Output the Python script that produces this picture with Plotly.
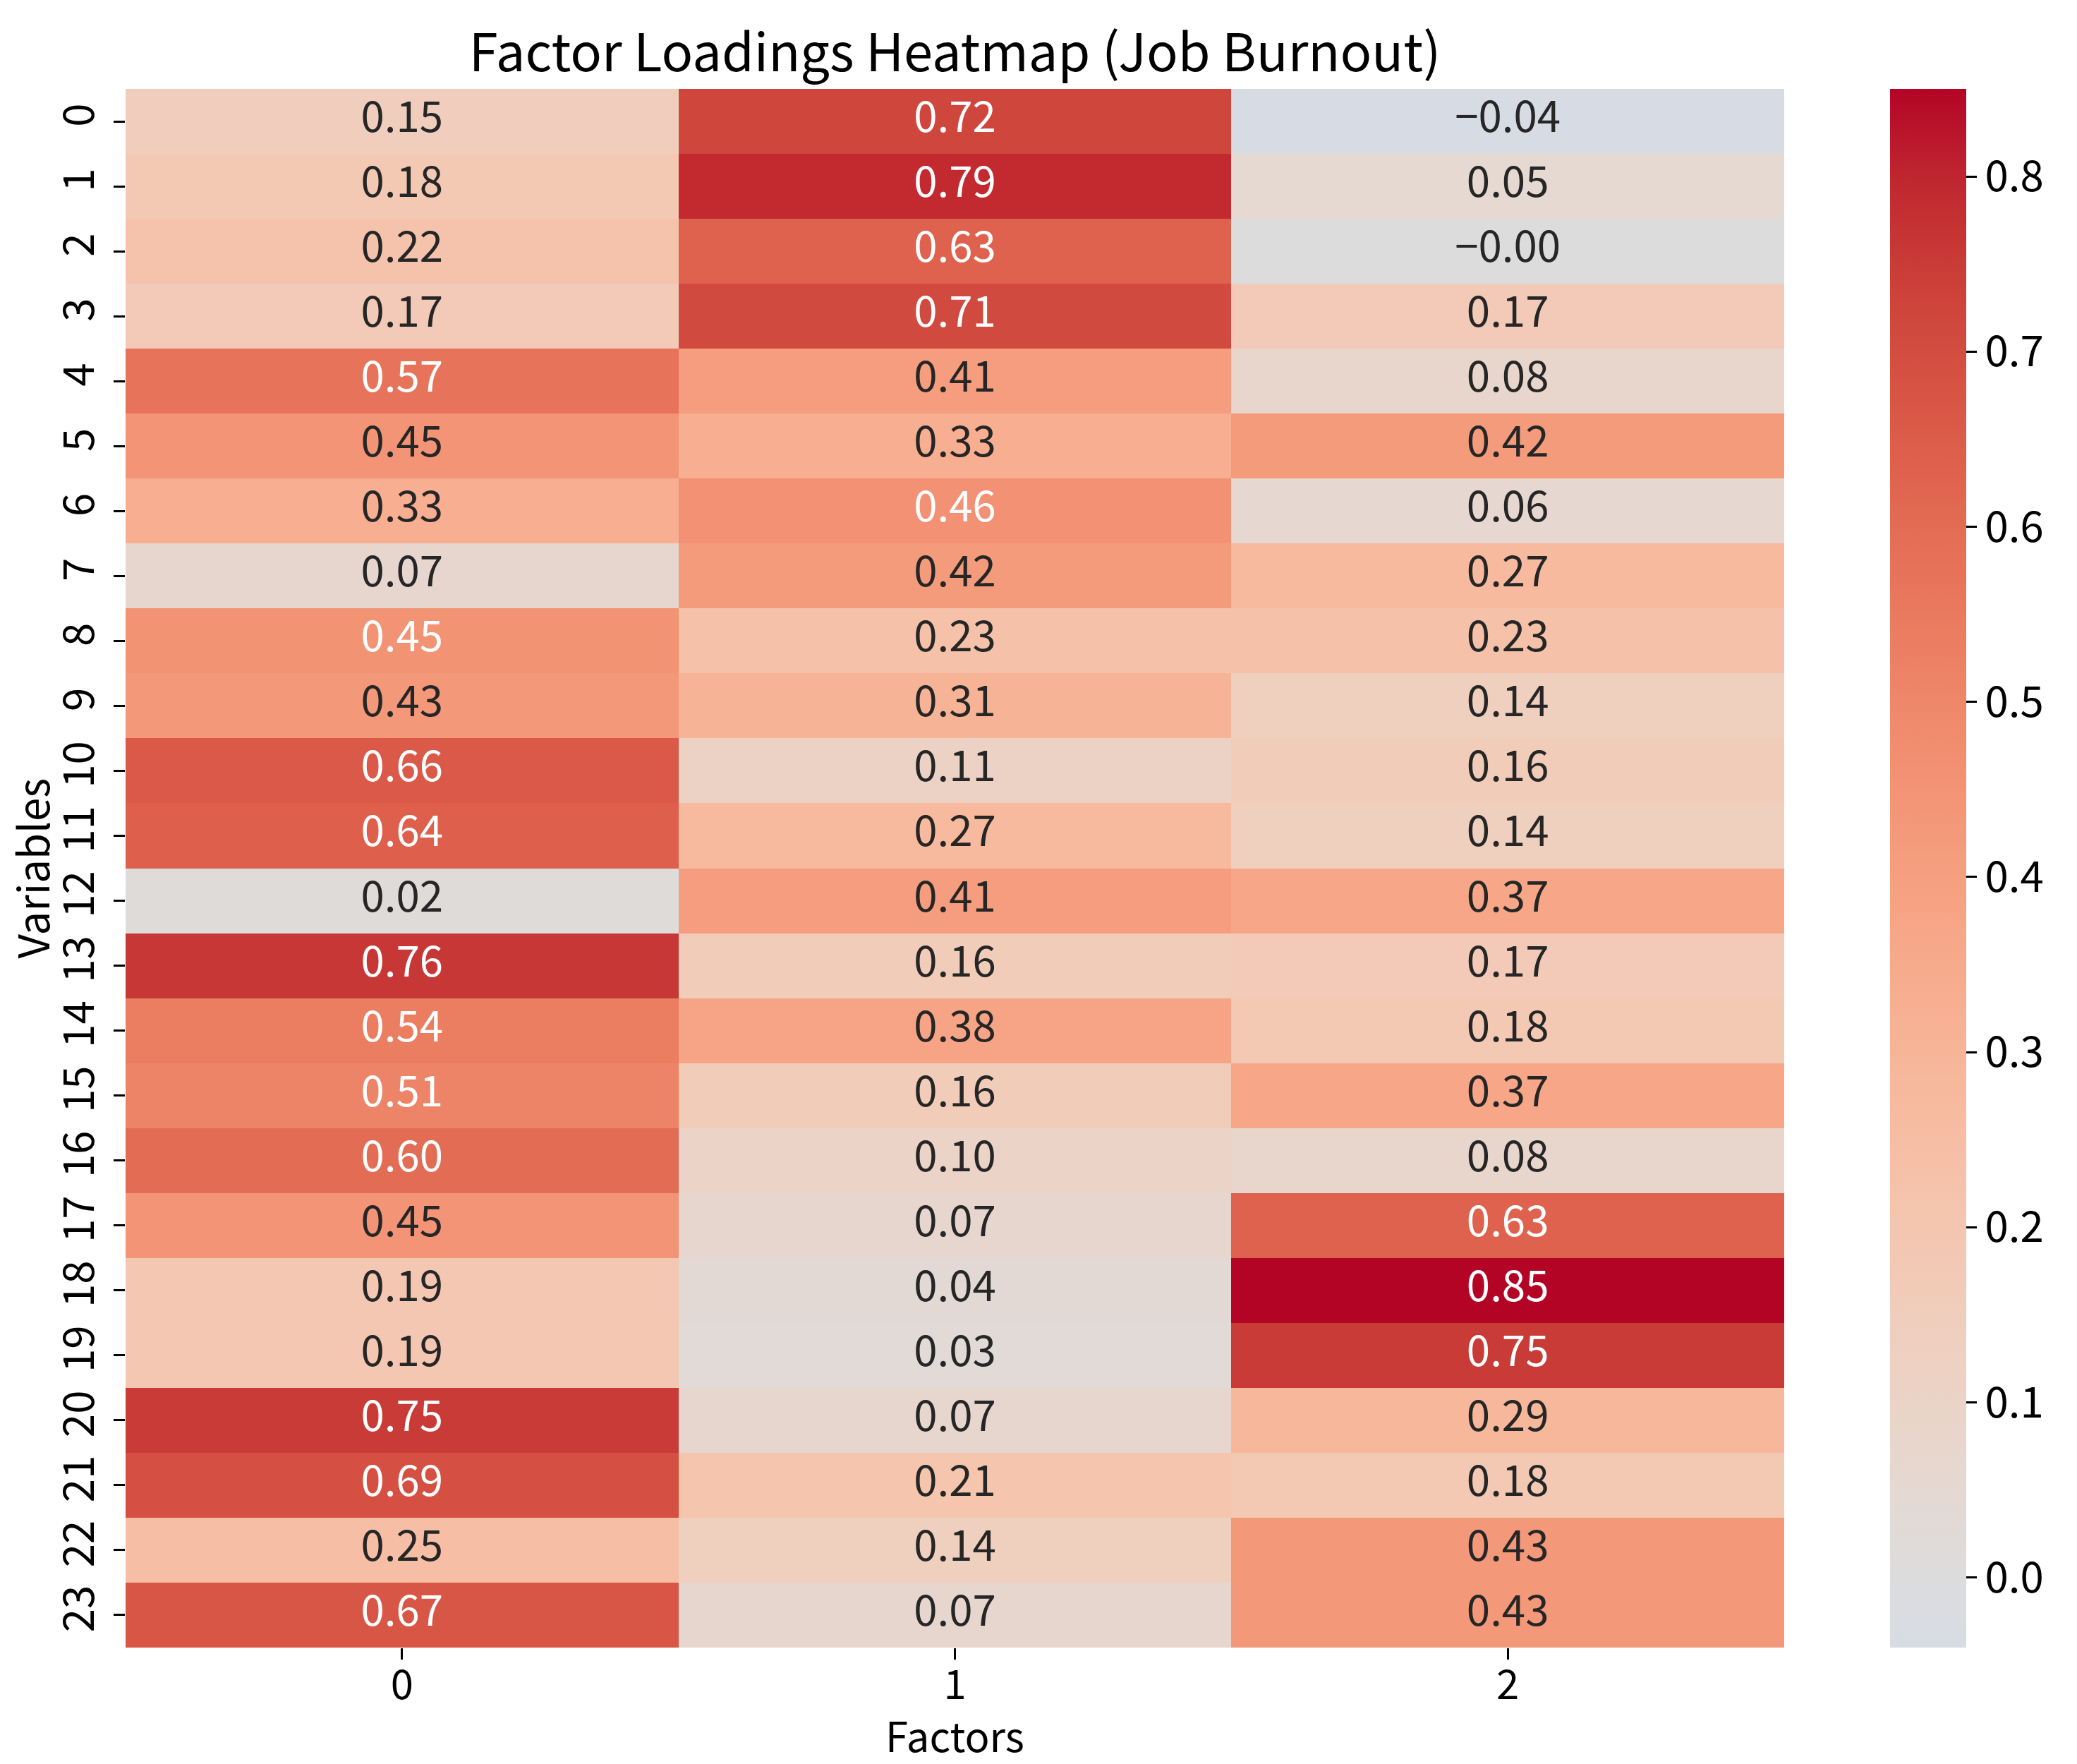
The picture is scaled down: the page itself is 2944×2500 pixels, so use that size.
import plotly.graph_objects as go
import numpy as np

# ---------------- data ----------------
variables = list(range(24))
factors = [0, 1, 2]
factor0 = [0.15, 0.18, 0.22, 0.17, 0.57, 0.448, 0.33, 0.07, 0.454, 0.43, 0.66, 0.64,
           0.02, 0.76, 0.54, 0.51, 0.60, 0.448, 0.19, 0.19, 0.75, 0.69, 0.25, 0.67]
factor1 = [0.72, 0.79, 0.63, 0.71, 0.41, 0.33, 0.46, 0.42, 0.23, 0.31, 0.11, 0.27,
           0.41, 0.16, 0.38, 0.16, 0.10, 0.07, 0.04, 0.03, 0.07, 0.21, 0.14, 0.07]
factor2 = [-0.04, 0.05, -0.003, 0.17, 0.08, 0.42, 0.06, 0.27, 0.23, 0.14, 0.16, 0.14,
           0.37, 0.17, 0.18, 0.37, 0.08, 0.63, 0.85, 0.75, 0.29, 0.18, 0.43, 0.43]
cbar_ticks = [0.0, 0.1, 0.2, 0.3, 0.4, 0.5, 0.6, 0.7, 0.8]

title_text = "Factor Loadings Heatmap (Job Burnout)"
x_title = "Factors"
y_title = "Variables"

# ---------------- coolwarm colormap (matplotlib segment data) ----------------
cw_pos = np.linspace(0, 1, 33)
cw_r = [0.2298057, 0.26623388, 0.30386891, 0.342804478, 0.38301334, 0.424369608, 0.46666708,
        0.509635204, 0.552953156, 0.596262162, 0.639176211, 0.681291281, 0.722193294,
        0.761464949, 0.798691636, 0.833466556, 0.865395197, 0.897787179, 0.924127593,
        0.944468518, 0.958852946, 0.96732803, 0.969954137, 0.966811177, 0.958003065,
        0.943660866, 0.923944917, 0.89904617, 0.869186849, 0.834620542, 0.795631745,
        0.752534934, 0.705673158]
cw_g = [0.298717966, 0.353094838, 0.406535296, 0.458757618, 0.50941904, 0.558148092,
        0.604562568, 0.648280772, 0.688929332, 0.726149107, 0.759599947, 0.788964712,
        0.813952739, 0.834302879, 0.849786142, 0.860207984, 0.86541021, 0.848937047,
        0.827384882, 0.800927443, 0.769767752, 0.734132809, 0.694266682, 0.650421156,
        0.602842431, 0.551750968, 0.49730856, 0.439559467, 0.378313092, 0.312874446,
        0.24128379, 0.157246067, 0.01555616]
cw_b = [0.753683153, 0.801466763, 0.84495867, 0.883725899, 0.917387822, 0.945619588,
        0.968154911, 0.98478814, 0.995375608, 0.999836203, 0.998151185, 0.990363227,
        0.976574709, 0.956945269, 0.931688648, 0.901068838, 0.865395561, 0.820880546,
        0.774508472, 0.726736146, 0.678007945, 0.628751763, 0.579375448, 0.530263762,
        0.481775914, 0.434243684, 0.387970225, 0.343229596, 0.300267182, 0.259301199,
        0.220525627, 0.184115123, 0.150232812]


def coolwarm(t):
    return (np.interp(t, cw_pos, cw_r), np.interp(t, cw_pos, cw_g), np.interp(t, cw_pos, cw_b))


z = [[a, b, c] for a, b, c in zip(factor0, factor1, factor2)]
allv = factor0 + factor1 + factor2
vmin, vmax = min(allv), max(allv)
vrange = max(vmax, -vmin)  # seaborn center=0
cmin = (vmin + vrange) / (2 * vrange)
cmax = (vmax + vrange) / (2 * vrange)

colorscale = []
for s in np.linspace(0, 1, 64):
    r, g, b = coolwarm(cmin + s * (cmax - cmin))
    colorscale.append([float(s), f"rgb({int(round(r*255))},{int(round(g*255))},{int(round(b*255))})"])

# annotation texts & colours
tx, ty, tt, tc = [], [], [], []
for i, row in enumerate(z):
    for j, v in enumerate(row):
        tx.append(factors[j])
        ty.append(variables[i])
        tt.append(f"{v:.2f}".replace("-", "\u2212"))
        tc.append("white" if v > 0.45 else "#262626")

FONT = "Noto Sans CJK SC, Noto Sans, sans-serif"

fig = go.Figure()
fig.add_trace(go.Heatmap(
    z=z, x=factors, y=variables,
    colorscale=colorscale, zmin=vmin, zmax=vmax,
    xgap=0, ygap=0, hoverinfo="skip",
    colorbar=dict(
        thickness=108, len=1.0, lenmode="fraction",
        x=1.0638, xanchor="left", xref="paper",
        y=0.5, yanchor="middle", yref="paper",
        xpad=0, ypad=0,
        outlinewidth=0,
        tickvals=cbar_ticks, tickformat=".1f",
        ticks="outside", ticklen=15, tickwidth=3, tickcolor="black",
        tickfont=dict(family=FONT, size=60, color="black"),
    ),
))
fig.add_trace(go.Scatter(
    x=tx, y=ty, text=tt, mode="text",
    textfont=dict(family=FONT, size=60, color=tc),
    hoverinfo="skip", showlegend=False,
))

fig.update_layout(
    width=2944, height=2500,
    margin=dict(l=178, r=415, t=126, b=165),
    paper_bgcolor="white", plot_bgcolor="white",
    title=dict(text=title_text, x=0.5, xref="paper", xanchor="center",
               y=1 - 75 / 2500, yref="container", yanchor="middle",
               font=dict(family=FONT, size=74, color="black")),
    xaxis=dict(
        range=[-0.5, 2.5], tickvals=factors, ticktext=[str(f) for f in factors],
        ticks="outside", ticklen=16, tickwidth=3, tickcolor="black",
        ticklabelstandoff=-14,
        showgrid=False, zeroline=False, showline=False,
        tickfont=dict(family=FONT, size=58, color="black"),
        title=dict(text=x_title, standoff=10, font=dict(family=FONT, size=58, color="black")),
        automargin=False,
    ),
    yaxis=dict(
        range=[23.5, -0.5], tickvals=variables, ticktext=[str(v) for v in variables],
        tickangle=-90,
        ticks="outside", ticklen=16, tickwidth=3, tickcolor="black",
        ticklabelstandoff=4,
        showgrid=False, zeroline=False, showline=False,
        tickfont=dict(family=FONT, size=60, color="black"),
        title=dict(text=y_title, standoff=14, font=dict(family=FONT, size=60, color="black")),
        automargin=False,
    ),
)

fig.write_html("out.html", config={"displayModeBar": False},
               post_script="document.body.style.margin='0px';")
